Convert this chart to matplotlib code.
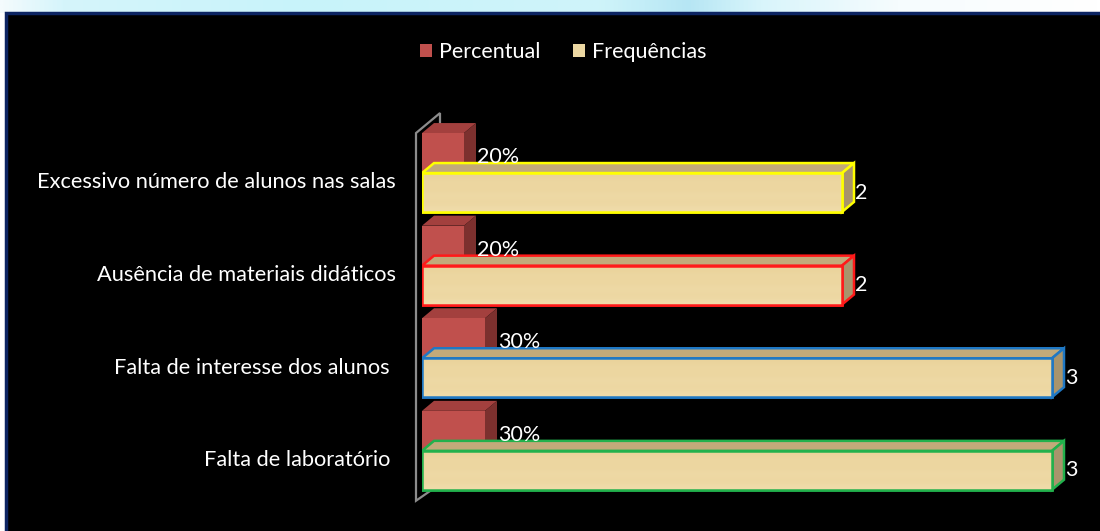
import numpy as np
import matplotlib.pyplot as plt
from matplotlib.patches import Polygon, Rectangle, Patch
from matplotlib.colors import LinearSegmentedColormap

# dados do gráfico
categorias = ["Excessivo número de alunos nas salas",
              "Ausência de materiais didáticos",
              "Falta de interesse dos alunos ",
              "Falta de laboratório "]
percentual = [0.20, 0.20, 0.30, 0.30]
frequencias = [2, 2, 3, 3]
rotulos_pct = ["20%", "20%", "30%", "30%"]
rotulos_freq = ["2", "2", "3", "3"]
series = ["Percentual", "Frequências"]

# estilos
contornos = ["#ffff00", "#ff1a1a", "#1f78c4", "#22b14c"]
vermelho = ("#c0504d", "#a3403e", "#7c302e")
madeira = ("#ecd7a2", "#c2aa7a", "#a8946c")

plt.rcParams['font.family'] = ['Lato', 'DejaVu Sans']

W, H = 1100, 531
fig = plt.figure(figsize=(W / 100, H / 100), dpi=100, facecolor='white')

# faixa clara no topo
faixa = fig.add_axes([0, 1 - 13 / H, 1, 13 / H], zorder=-2)
pos = [0, 60, 300, 600, 690, 760, 900, 1100]
cores = ["#f4fbfd", "#d5f5fb", "#c8f3fa", "#cff4fa", "#b6e6f4", "#d8f5fb", "#f6fcfe", "#ffffff"]
cmap = LinearSegmentedColormap.from_list("faixa", [(p / 1100, c) for p, c in zip(pos, cores)])
faixa.imshow(np.linspace(0, 1, 500)[None, :], aspect='auto', cmap=cmap, extent=(0, 1, 0, 1))
faixa.set_axis_off()

# fundo preto com borda azul escura
fig.patches.append(Rectangle((6 / W, -0.05), 1.0, 1.05 - 13 / H, transform=fig.transFigure,
                             facecolor='black', edgecolor='#0c2462', lw=2.5, zorder=-1))

PX, PY = 210.0, 92.6   # pixels por unidade
x0 = 422
ax = fig.add_axes([x0 / W, 0, 1 - x0 / W, 1])
ax.set_xlim(0, (W - x0) / PX)
ax.set_ylim((H - 172.5) / PY, -172.5 / PY)
ax.patch.set_visible(False)
for s in ax.spines.values():
    s.set_visible(False)
ax.set_xticks([])
n = len(categorias)
ax.set_yticks(np.arange(n) + 0.085, categorias)
ax.tick_params(axis='y', length=0, pad=19, labelcolor='white', labelsize=15.7)

dx, dy = 12 / PX, -10 / PY
off, h = 0.216, 0.42


def caixa(v, yc, cores_face, borda, z):
    y1, y2 = yc - h / 2, yc + h / 2
    frente = [(0, y1), (v, y1), (v, y2), (0, y2)]
    topo = [(0, y1), (v, y1), (v + dx, y1 + dy), (dx, y1 + dy)]
    lado = [(v, y1), (v + dx, y1 + dy), (v + dx, y2 + dy), (v, y2)]
    ec = borda if borda else 'none'
    for pts, c in ((topo, cores_face[1]), (lado, cores_face[2]), (frente, cores_face[0])):
        ax.add_patch(Polygon(pts, closed=True, facecolor=c, edgecolor=ec, lw=1.8, zorder=z,
                             joinstyle='miter'))
    if borda:
        # leve gradiente de madeira na face frontal
        img = ax.imshow(np.array([[0.0], [0.5], [0.2], [0.8], [0.3], [1.0]]), cmap=grad,
                        aspect='auto', extent=(0, v, y2, y1), zorder=z, interpolation='bicubic')
        img.set_clip_path(Polygon(frente, closed=True, transform=ax.transData))
        ax.add_patch(Polygon(frente, closed=True, facecolor='none', edgecolor=ec, lw=1.8,
                             zorder=z, joinstyle='miter'))


grad = LinearSegmentedColormap.from_list("madeira", ["#ead39b", "#f0dcaa"])

# eixo em perspectiva
xa = -6 / PX
ytop = -off - h / 2
ybot = (n - 1) + off + h / 2 + 11 / PY
ax.plot([xa + 2 * dx, xa + 2 * dx, xa, xa, xa + 1.2 * dx],
        [ytop + 2 * dy + 10 / PY, ytop + 2 * dy, ytop, ybot, ybot + dy],
        color='#8c8c8c', lw=1.6, zorder=1, solid_joinstyle='miter', clip_on=False)

for i in range(n):
    caixa(percentual[i], i - off, vermelho, None, 2)
    caixa(frequencias[i], i + off, madeira, contornos[i], 3)
    ax.text(percentual[i] + dx + 1 / PX, i + off - h / 2 + dy, rotulos_pct[i],
            color='white', fontsize=15.5, ha='left', va='baseline', zorder=4)
    ax.text(frequencias[i] + dx + 1 / PX, i + off, rotulos_freq[i],
            color='white', fontsize=15.5, ha='left', va='center', zorder=4)

ax.set_xlim(0, (W - x0) / PX)
ax.set_ylim((H - 172.5) / PY, -172.5 / PY)

handles = [Patch(facecolor=vermelho[0], label=series[0]),
           Patch(facecolor=madeira[0], label=series[1])]
fig.legend(handles=handles, loc='center', bbox_to_anchor=(563 / W, 1 - 52 / H), ncol=2,
           frameon=False, labelcolor='white', fontsize=15.5, handlelength=0.58,
           handleheight=0.58, handletextpad=0.3, columnspacing=1.5)

fig.savefig("out.png", dpi=100, facecolor='white')
